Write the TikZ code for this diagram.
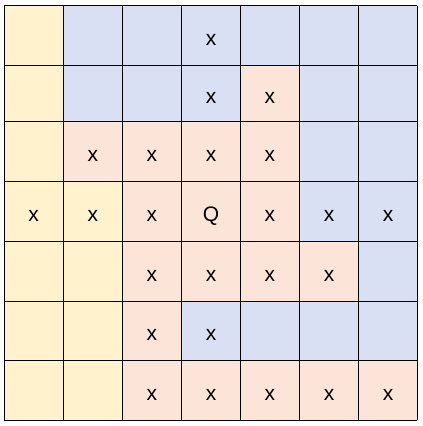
\documentclass[tikz,border=0pt]{standalone}
\usepackage{fontspec}
\setmainfont{Liberation Sans}
\definecolor{cy}{HTML}{FFF2CC}
\definecolor{cb}{HTML}{DAE0F3}
\definecolor{cs}{HTML}{FDE4D8}
\begin{document}
\begin{tikzpicture}[x=1pt,y=-1pt,
  cellline/.style={draw=black,line width=0.9pt},
  lbl/.style={font=\fontsize{21}{21}\selectfont,anchor=base,inner sep=0pt}]
\useasboundingbox (0,0) rectangle (423,426);
\def\xs{{4,63.3,122.3,181.5,240.5,299.3,358.7,417.3}}
\def\ys{{5.7,65.3,121.7,181.3,241,301,360.7,420}}
\foreach \r/\row in {0/{cy,cb,cb,cb,cb,cb,cb},
                     1/{cy,cb,cb,cb,cs,cb,cb},
                     2/{cy,cs,cs,cs,cs,cb,cb},
                     3/{cy,cy,cs,cs,cs,cb,cb},
                     4/{cy,cy,cs,cs,cs,cs,cb},
                     5/{cy,cy,cs,cb,cb,cb,cb},
                     6/{cy,cy,cs,cs,cs,cs,cs}}{
  \foreach \col [count=\c from 0] in \row {
    \pgfmathtruncatemacro\cn{\c+1}
    \pgfmathtruncatemacro\rn{\r+1}
    \pgfmathsetmacro\xa{\xs[\c]}
    \pgfmathsetmacro\xb{\xs[\cn]}
    \pgfmathsetmacro\ya{\ys[\r]}
    \pgfmathsetmacro\yb{\ys[\rn]}
    \fill[\col] (\xa,\ya) rectangle (\xb,\yb);
  }
}
\foreach \i in {0,...,7}{
  \pgfmathsetmacro\xa{\xs[\i]}
  \pgfmathsetmacro\ya{\ys[\i]}
  \draw[cellline] (\xa,5.7) -- (\xa,420);
  \draw[cellline] (4,\ya) -- (417.3,\ya);
}
\foreach \r/\c/\t in {0/3/x,1/3/x,1/4/x,
  2/1/x,2/2/x,2/3/x,2/4/x,
  3/0/x,3/1/x,3/2/x,3/3/Q,3/4/x,3/5/x,3/6/x,
  4/2/x,4/3/x,4/4/x,4/5/x,
  5/2/x,5/3/x,
  6/2/x,6/3/x,6/4/x,6/5/x,6/6/x}{
  \pgfmathtruncatemacro\cn{\c+1}
  \pgfmathtruncatemacro\rn{\r+1}
  \pgfmathsetmacro\xa{\xs[\c]}
  \pgfmathsetmacro\xb{\xs[\cn]}
  \pgfmathsetmacro\ya{\ys[\r]}
  \pgfmathsetmacro\yb{\ys[\rn]}
  \pgfmathsetmacro\xm{(\xa+\xb)/2}
  \pgfmathsetmacro\ym{(\ya+\yb)/2+10}
  \node[lbl] (t\r\c) at (\xm,\ym) {\t};
}
\end{tikzpicture}
\end{document}
